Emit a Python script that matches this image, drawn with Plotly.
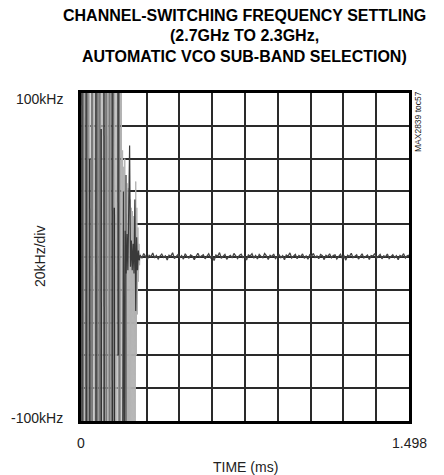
import numpy as np
import plotly.graph_objects as go

# ---------------- data (kHz vs ms) ----------------
T_END = 1.498
Y_MIN, Y_MAX = -100, 100

# light gray transient (full-swing oscillation), sampled every 0.004 ms from 0
light_a_step = 0.004
light_a = [140, -140, 135, -140, 140, -130, 140, -140, 120, -140,
           140, -140, 140, -135, 130, -140, 140, -140, 140, -140,
           140, -120, 140, -140, 140, -140, 125, -140, 140, -140,
           140, -140, 140, -140, 110, -140, 140, -140, 140, -140,
           140, -140, 130, -140, 140, -140, 140, -140]

# light gray ringing, sampled every 0.0025 ms from 0.19 ms
light_b_start, light_b_step = 0.19, 0.0025
light_b = [65, -140, 55, -140, 60, -140, 50, -140, 45, -140,
           42, -140, 38, -140, 35, -140, 30, -140, 28, -140,
           25, -140, 20, -140, 46, -60, 30, -35, 18, -15,
           8, -5, 2]

# medium gray swings: time (ms), upper and lower excursion (kHz)
mid_t = [0.010, 0.030, 0.050, 0.075, 0.085, 0.115, 0.130, 0.175, 0.205]
mid_hi = [140, 140, 140, 140, 100, 140, 140, 140, 50]
mid_lo = [-140, -140, -140, -140, -140, -140, -140, -140, -140]

# dark swings: time (ms), upper and lower excursion (kHz)
dark_t = [0.004, 0.023, 0.040, 0.068, 0.092, 0.105, 0.142, 0.152, 0.169]
dark_hi = [140, 140, 60, 140, 78, 140, 140, 30, 140]
dark_lo = [-140, -140, -140, -140, -140, -140, -140, -140, -60]

# dark ringing, sampled every 0.004 ms from 0.19 ms
ring_start, ring_step = 0.19, 0.004
ring = [-140, 40, -140, 16, -10, 14, -8, 20, 68, -6,
        10, -8, 8, -10, 35, -33, 12, -8, 4, -2, 1]

# settled noise, sampled uniformly from 0.27 ms to 1.498 ms
noise_start = 0.27
noise = [1.2, -0.8, 2.1, 0.3, -1.5, 1.0, 0.2, 2.4, -0.6, 0.9,
         -1.2, 0.5, 1.8, -0.3, 0.7, -1.9, 1.1, 0.4, 2.6, -0.9,
         0.6, 1.5, -0.4, 0.8, -1.3, 2.0, 0.1, -0.7, 1.3, 0.5,
         -1.6, 0.9, 2.3, -0.2, 0.6, 1.4, -1.1, 0.3, 1.9, -0.5,
         0.8, -2.2, 1.2, 0.4, 2.7, -0.8, 0.7, 1.6, -1.4, 0.2,
         1.0, -0.6, 2.2, 0.5, -1.0, 0.9, 1.7, -0.3, 0.4, -1.8,
         1.3, 0.6, 2.0, -0.7, 0.9, -1.2, 1.5, 0.3, -0.5, 2.1,
         0.7, -1.5, 1.1, 0.2, 1.8, -0.9, 0.6, 1.4, -0.4, 0.8,
         -1.7, 1.2, 0.5, 2.5, -0.6, 0.3, 1.6, -1.1, 0.9, 0.1,
         1.9, -0.8, 0.7, -1.4, 1.3, 0.4, 2.2, -0.3, 0.6, -1.0,
         1.5, 0.8, -1.6, 1.0, 0.2, 2.0, -0.5, 0.9, 1.3, -1.2,
         0.4, 1.7, -0.7, 0.6, -1.9, 1.1, 0.3, 2.3, -0.4, 0.8,
         1.4, -1.3, 0.5, 1.9, -0.6, 0.2, 1.2, -1.5, 0.9, 0.6,
         2.1, -0.8, 0.4, 1.6, -1.1, 0.7, 0.1, 1.8, -0.9, 0.5,
         1.3, -0.4, 0.8, -1.7, 1.0, 0.3, 2.0, -0.6, 0.7, 1.1]

title_lines = ["CHANNEL-SWITCHING FREQUENCY SETTLING",
               "(2.7GHz TO 2.3GHz,",
               "AUTOMATIC VCO SUB-BAND SELECTION)"]

# ---------------- build ----------------
def swings(ts, hi, lo):
    xs, ys = [], []
    for t, h, l in zip(ts, hi, lo):
        xs += [t, t + 0.0008, None]
        ys += [h, l, None]
    return xs, ys

t_light_a = np.arange(len(light_a)) * light_a_step
t_light_b = light_b_start + np.arange(len(light_b)) * light_b_step
t_ring = ring_start + np.arange(len(ring)) * ring_step
t_noise = np.linspace(noise_start, T_END, len(noise))

FONT = "Liberation Sans, Arial, sans-serif"

fig = go.Figure()
fig.add_trace(go.Scatter(x=np.concatenate([t_light_a, t_light_b]),
                         y=light_a + light_b, mode="lines",
                         line=dict(color="#b2b2b2", width=1)))
mx, my = swings(mid_t, mid_hi, mid_lo)
fig.add_trace(go.Scatter(x=mx, y=my, mode="lines", connectgaps=False,
                         line=dict(color="#7a7a7a", width=2)))
dx, dy = swings(dark_t, dark_hi, dark_lo)
fig.add_trace(go.Scatter(x=dx, y=dy, mode="lines", connectgaps=False,
                         line=dict(color="#333333", width=1.5)))
fig.add_trace(go.Scatter(x=t_ring, y=ring, mode="lines",
                         line=dict(color="#3a3a3a", width=1.2)))
fig.add_trace(go.Scatter(x=t_noise, y=noise, mode="lines",
                         line=dict(color="#444444", width=1.3)))

ann = []
for i, s in enumerate(title_lines):
    ann.append(dict(text="<b>" + s + "</b>", xref="paper", yref="paper",
                    x=(244 - 81) / 328, y=(421 - [15, 36, 57][i]) / 328,
                    xanchor="center", yanchor="middle", showarrow=False,
                    font=dict(family=FONT, size=16, color="black")))
common = dict(xref="paper", yref="paper", showarrow=False,
              font=dict(family=FONT, size=14, color="#222"))
ann += [
    dict(text="100kHz", x=(65 - 81) / 328, y=(421 - 99.5) / 328,
         xanchor="right", yanchor="middle", **common),
    dict(text="-100kHz", x=(65 - 81) / 328, y=(421 - 418) / 328,
         xanchor="right", yanchor="middle", **common),
    dict(text="0", x=0.0015, y=(421 - 443) / 328,
         xanchor="center", yanchor="middle", **common),
    dict(text="1.498", x=(410 - 81) / 328, y=(421 - 443) / 328,
         xanchor="center", yanchor="middle", **common),
    dict(text="TIME (ms)", x=(245 - 81) / 328, y=(421 - 467) / 328,
         xanchor="center", yanchor="middle", **common),
    dict(text="20kHz/div", x=(40 - 81) / 328, y=(421 - 257) / 328,
         xanchor="center", yanchor="middle", textangle=-90, **common),
    dict(text="MAX2839 toc57", x=(418 - 81) / 328, y=(421 - 122) / 328,
         xanchor="center", yanchor="middle", textangle=-90,
         xref="paper", yref="paper", showarrow=False,
         font=dict(family=FONT, size=8.5, color="#222")),
]

fig.update_layout(
    width=444, height=475,
    margin=dict(l=81, r=35, t=93, b=54),
    paper_bgcolor="white", plot_bgcolor="white",
    showlegend=False,
    annotations=ann,
    xaxis=dict(range=[0, T_END], dtick=T_END / 10, tick0=0,
               showticklabels=False, ticks="",
               showgrid=True, gridcolor="#2a2a2a", gridwidth=1.5,
               zeroline=False, showline=True, linecolor="black",
               linewidth=3, mirror=True, fixedrange=True),
    yaxis=dict(range=[Y_MIN, Y_MAX], dtick=20, tick0=0,
               showticklabels=False, ticks="",
               showgrid=True, gridcolor="#2a2a2a", gridwidth=1.5,
               zeroline=False, showline=True, linecolor="black",
               linewidth=3, mirror=True, fixedrange=True),
)

fig.write_html("out.html", config={"displayModeBar": False},
               post_script="document.body.style.margin='0px';")
